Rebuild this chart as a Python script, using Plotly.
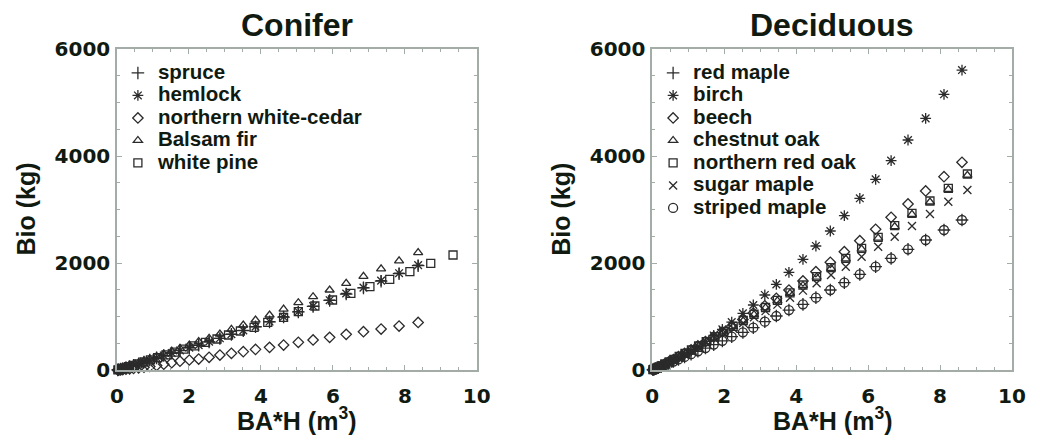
import plotly.graph_objects as go

# ---------------- data ----------------
conifer_x = [8.37, 7.84, 7.34, 6.85, 6.37, 5.91, 5.45, 5.04, 4.63, 4.24, 3.85, 3.51, 3.18, 2.86,
             2.56, 2.27, 2.01, 1.75, 1.52, 1.30, 1.10, 0.91, 0.75, 0.60, 0.46, 0.35, 0.25, 0.16,
             0.10, 0.05, 0.02]
spruce_y = [1950, 1800, 1660, 1535, 1420, 1300, 1190, 1085, 990, 900, 808, 736, 666, 590, 525,
            463, 415, 362, 315, 270, 226, 186, 150, 118, 89, 65, 45, 28, 17, 8, 3]
hemlock_y = [1960, 1810, 1670, 1540, 1430, 1305, 1195, 1090, 995, 905, 810, 740, 670, 592, 528,
             465, 418, 365, 318, 272, 228, 188, 152, 120, 90, 66, 46, 28, 17, 8, 3]
cedar_y = [888, 822, 766, 716, 666, 610, 561, 517, 467, 423, 385, 343, 311, 280, 237, 205, 187,
           165, 137, 108, 85, 66, 52, 40, 30, 22, 15, 9, 5, 3, 1]
fir_y = [2193, 2040, 1890, 1750, 1620, 1495, 1370, 1258, 1138, 1028, 935, 841, 760, 673, 592,
         530, 467, 405, 350, 298, 250, 206, 168, 133, 100, 74, 51, 32, 19, 9, 3]
pine_x = [9.34, 8.72, 8.14, 7.58, 7.03, 6.50, 5.99, 5.50, 5.04, 4.63, 4.19, 3.81, 3.43, 3.10,
          2.78, 2.46, 2.15, 1.86, 1.60, 1.36, 1.13, 0.93, 0.75, 0.58, 0.44, 0.32, 0.21, 0.13,
          0.07, 0.025]
pine_y = [2150, 1994, 1838, 1695, 1558, 1433, 1308, 1196, 1090, 985, 891, 798, 729, 654, 579,
          515, 450, 390, 335, 282, 232, 188, 150, 115, 86, 62, 40, 24, 13, 4]

birch_x = [8.61, 8.11, 7.60, 7.11, 6.64, 6.21, 5.77, 5.34, 4.95, 4.55, 4.19, 3.80, 3.45, 3.13,
           2.81, 2.52, 2.21, 1.95, 1.71, 1.48, 1.27, 1.08, 0.90, 0.73, 0.59, 0.46, 0.34, 0.25,
           0.17, 0.10, 0.05, 0.02]
red_maple_y = [2804, 2617, 2430, 2256, 2087, 1931, 1788, 1632, 1495, 1352, 1227, 1121, 1009, 903,
               791, 704, 623, 545, 475, 410, 350, 296, 245, 198, 158, 122, 89, 64, 43, 25, 12, 5]
birch_y = [5607, 5153, 4704, 4299, 3913, 3564, 3209, 2885, 2598, 2318, 2069, 1826, 1601, 1402,
           1215, 1059, 895, 760, 645, 535, 440, 358, 285, 220, 168, 124, 86, 58, 36, 19, 8, 3]
beech_y = [3882, 3614, 3346, 3103, 2854, 2630, 2417, 2211, 2013, 1838, 1664, 1495, 1340, 1200,
           1065, 945, 820, 715, 620, 530, 450, 378, 310, 248, 196, 150, 108, 78, 52, 30, 14, 6]
striped_maple_y = [2804, 2617, 2430, 2256, 2087, 1931, 1788, 1632, 1495, 1352, 1227, 1121, 1009,
                   903, 791, 704, 623, 545, 475, 410, 350, 296, 245, 198, 158, 122, 89, 64, 43,
                   25, 12, 5]
oak_x = [8.76, 8.23, 7.72, 7.22, 6.74, 6.28, 5.82, 5.38, 4.97, 4.57, 4.19, 3.83, 3.48, 3.15,
         2.83, 2.53, 2.25, 1.99, 1.74, 1.51, 1.29, 1.09, 0.91, 0.75, 0.60, 0.47, 0.35, 0.25,
         0.17, 0.10, 0.05, 0.02]
chestnut_oak_y = [3640, 3375, 3140, 2910, 2680, 2465, 2260, 2075, 1900, 1735, 1580, 1432, 1292,
                  1160, 1035, 920, 810, 710, 616, 528, 447, 372, 307, 250, 196, 150, 110, 77, 51,
                  29, 14, 6]
red_oak_y = [3664, 3396, 3159, 2928, 2698, 2480, 2274, 2087, 1913, 1745, 1589, 1440, 1300, 1168,
             1042, 925, 815, 715, 620, 532, 450, 375, 310, 252, 198, 152, 112, 78, 52, 30, 14, 6]
sugar_maple_y = [3364, 3146, 2916, 2692, 2492, 2305, 2118, 1931, 1776, 1620, 1483, 1350, 1222,
                 1100, 985, 877, 775, 682, 593, 510, 433, 362, 300, 245, 193, 148, 108, 76, 50,
                 29, 14, 6]

panel_titles = ["Conifer", "Deciduous"]
x_title = "BA*H (m<sup>3</sup>)"
y_title = "Bio (kg)"

# ---------------- styling ----------------
INK = "#101a10"
MK = "#2b2b2b"
AX = "#a4aca8"
TXT = "Liberation Sans"
NUM = "DejaVu Sans"


def legend_label(s):
    # legend rows are spaced by the legend font (15px); the label itself is drawn larger
    return '<span style="font-size:20.5px">' + s + '</span>'


conifer = [
    ("spruce", conifer_x, spruce_y, "cross-thin-open", 9),
    ("hemlock", conifer_x, hemlock_y, "asterisk-open", 9),
    ("northern white-cedar", conifer_x, cedar_y, "diamond-open", 8),
    ("Balsam fir", conifer_x, fir_y, "triangle-up-open", 8),
    ("white pine", pine_x, pine_y, "square-open", 8),
]
deciduous = [
    ("red maple", birch_x, red_maple_y, "cross-thin-open", 9),
    ("birch", birch_x, birch_y, "asterisk-open", 9),
    ("beech", birch_x, beech_y, "diamond-open", 8),
    ("chestnut oak", oak_x, chestnut_oak_y, "triangle-up-open", 8),
    ("northern red oak", oak_x, red_oak_y, "square-open", 8),
    ("sugar maple", oak_x, sugar_maple_y, "x-thin-open", 8),
    ("striped maple", birch_x, striped_maple_y, "circle-open", 9),
]

fig = go.Figure()
for group, xa, ya, leg in [(conifer, "x", "y", "legend"), (deciduous, "x2", "y2", "legend2")]:
    for name, xs, ys, sym, sz in group:
        fig.add_trace(go.Scatter(
            x=xs, y=ys, mode="markers", name=legend_label(name), xaxis=xa, yaxis=ya, legend=leg,
            cliponaxis=False,
            marker=dict(symbol=sym, size=sz, color=MK, line=dict(color=MK, width=1.3)),
        ))

axis_common = dict(
    showline=True, linecolor=AX, linewidth=1.5, mirror="allticks",
    ticks="inside", ticklen=5, tickwidth=1.2, tickcolor=AX,
    showgrid=False, zeroline=False,
    tickfont=dict(family=NUM, size=20, color=INK, weight="bold"),
)
xcommon = dict(axis_common, range=[0, 10], dtick=2, tick0=0,
               minor=dict(ticks="inside", dtick=0.5, ticklen=3, tickcolor=AX, tickwidth=1),
               ticklabelstandoff=7)
ycommon = dict(axis_common, range=[0, 6000], dtick=2000, tick0=0,
               minor=dict(ticks="inside", dtick=500, ticklen=3, tickcolor=AX, tickwidth=1),
               ticklabelstandoff=1)

title_font = dict(family=TXT, size=32, color=INK, weight="bold")
axtitle_font = dict(family=TXT, size=25, color=INK, weight="bold")
annotations = []
for i, (x0, x1) in enumerate([(0, 0.402), (0.598, 1.0)]):
    annotations.append(dict(text=panel_titles[i], x=(x0 + x1) / 2, y=1, xref="paper", yref="paper",
                            yshift=24, xanchor="center", yanchor="middle", showarrow=False,
                            font=title_font))
    annotations.append(dict(text=x_title, x=(x0 + x1) / 2, y=0, xref="paper", yref="paper",
                            yshift=-49, xanchor="center", yanchor="middle", showarrow=False,
                            font=axtitle_font))
    annotations.append(dict(text=y_title, x=x0, y=0.5, xref="paper", yref="paper",
                            xshift=-92, xanchor="center", yanchor="middle", showarrow=False,
                            textangle=-90, font=axtitle_font))

leg_common = dict(xanchor="left", yanchor="top", bgcolor="rgba(0,0,0,0)",
                  font=dict(family=TXT, size=15, color=INK, weight="bold"), tracegroupgap=0)

fig.update_layout(
    width=1038, height=441,
    margin=dict(l=117, r=18, t=49, b=71),
    paper_bgcolor="white", plot_bgcolor="white",
    xaxis=dict(xcommon, domain=[0, 0.402], anchor="y"),
    yaxis=dict(ycommon, anchor="x"),
    xaxis2=dict(xcommon, domain=[0.598, 1.0], anchor="y2"),
    yaxis2=dict(ycommon, anchor="x2"),
    legend=dict(leg_common, x=0.001, y=0.976),
    legend2=dict(leg_common, x=0.599, y=0.976),
    annotations=annotations,
)

fig.write_html("out.html", config={"displayModeBar": False},
               post_script="document.body.style.margin='0px';")
